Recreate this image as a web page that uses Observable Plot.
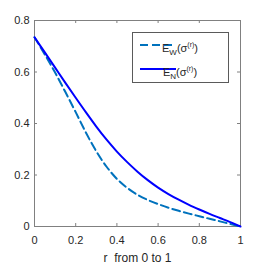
<!DOCTYPE html>
<html>
<head>
<meta charset="utf-8">
<script src="https://cdn.jsdelivr.net/npm/d3@7"></script>
<script src="https://cdn.jsdelivr.net/npm/@observablehq/plot@0.6"></script>
<style>
  html, body { margin: 0; padding: 0; background: #fff; }
  svg { display: block; }
</style>
</head>
<body>
<div id="chart"></div>
<script>
const r  = [0, 0.05, 0.1, 0.15, 0.2, 0.25, 0.3, 0.35, 0.4, 0.45, 0.5, 0.55, 0.6, 0.65, 0.7, 0.75, 0.8, 0.85, 0.9, 0.95, 1];
const eN = [0.735, 0.676, 0.617, 0.558, 0.500, 0.443, 0.388, 0.337, 0.291, 0.250, 0.213, 0.180, 0.151, 0.126, 0.104, 0.084, 0.066, 0.049, 0.033, 0.017, 0];
const eW = [0.735, 0.668, 0.598, 0.522, 0.444, 0.364, 0.292, 0.232, 0.185, 0.150, 0.123, 0.103, 0.087, 0.073, 0.061, 0.050, 0.040, 0.030, 0.020, 0.010, 0];
const xTicks = [0, 0.2, 0.4, 0.6, 0.8, 1];
const yTicks = [0, 0.2, 0.4, 0.6, 0.8];
const xLabel = "r\u00a0 from 0 to 1";
const seriesNames = ["W", "N"];
const seriesColors = ["#0072BD", "#0000FF"];

const dataN = r.map((v, i) => ({r: v, e: eN[i]}));
const dataW = r.map((v, i) => ({r: v, e: eW[i]}));

const W = 267, H = 263;
const tk = 0.8 * 3 / 206; // ~3px tick in y units
const tkx = 3 / 206;      // ~3px tick in x units
const axisColor = "#808080";
const font = "'Liberation Sans', Arial, sans-serif";

const plot = Plot.plot({
  width: W, height: H,
  marginLeft: 34, marginRight: 27, marginTop: 20, marginBottom: 37,
  style: {fontFamily: font, fontSize: "11px", color: "#262626", background: "#fff"},
  x: {domain: [0, 1]},
  y: {domain: [0, 0.8]},
  marks: [
    Plot.frame({stroke: axisColor, strokeWidth: 1}),
    Plot.ruleX(xTicks, {x: d => d, y1: 0, y2: tk, stroke: axisColor}),
    Plot.ruleX(xTicks, {x: d => d, y1: 0.8 - tk, y2: 0.8, stroke: axisColor}),
    Plot.ruleY(yTicks, {y: d => d, x1: 0, x2: tkx, stroke: axisColor}),
    Plot.ruleY(yTicks, {y: d => d, x1: 1 - tkx, x2: 1, stroke: axisColor}),
    Plot.axisX(xTicks, {tickSize: 0, tickPadding: 10, label: null, tickFormat: d => String(d), fontSize: 11}),
    Plot.axisY(yTicks, {tickSize: 0, tickPadding: 5, label: null, tickFormat: d => String(d), fontSize: 11}),
    Plot.line(dataW, {x: "r", y: "e", stroke: seriesColors[0], strokeWidth: 2, strokeDasharray: "8,4", curve: "monotone-x"}),
    Plot.line(dataN, {x: "r", y: "e", stroke: seriesColors[1], strokeWidth: 2, curve: "monotone-x"}),
    Plot.text([xLabel], {frameAnchor: "bottom", dy: 35, text: d => d, fontSize: 12, fill: "#262626"})
  ]
});

// legend
const svg = d3.select(plot);
const lg = svg.append("g").attr("font-family", font).attr("fill", "#262626");
lg.append("rect").attr("x", 132.5).attr("y", 32.5).attr("width", 96).attr("height", 50)
  .attr("fill", "#fff").attr("stroke", "#5a5a5a").attr("stroke-width", 1);
const rows = [45, 69];
seriesNames.forEach((name, i) => {
  const y = rows[i];
  lg.append("line").attr("x1", 140).attr("x2", 176).attr("y1", y).attr("y2", y)
    .attr("stroke", seriesColors[i]).attr("stroke-width", 2)
    .attr("stroke-dasharray", i === 0 ? "8,4" : null);
  const t = lg.append("text").attr("x", 180).attr("y", y + 6.5).attr("font-size", 11);
  t.append("tspan").text("E");
  t.append("tspan").attr("font-size", 8).attr("dy", 3.5).text(name);
  t.append("tspan").attr("dy", -3.5).text("(\u03c3");
  t.append("tspan").attr("font-size", 7).attr("dy", -5).text("(r)");
  t.append("tspan").attr("dy", 5).text(")");
});

document.getElementById("chart").appendChild(plot);
</script>
</body>
</html>
